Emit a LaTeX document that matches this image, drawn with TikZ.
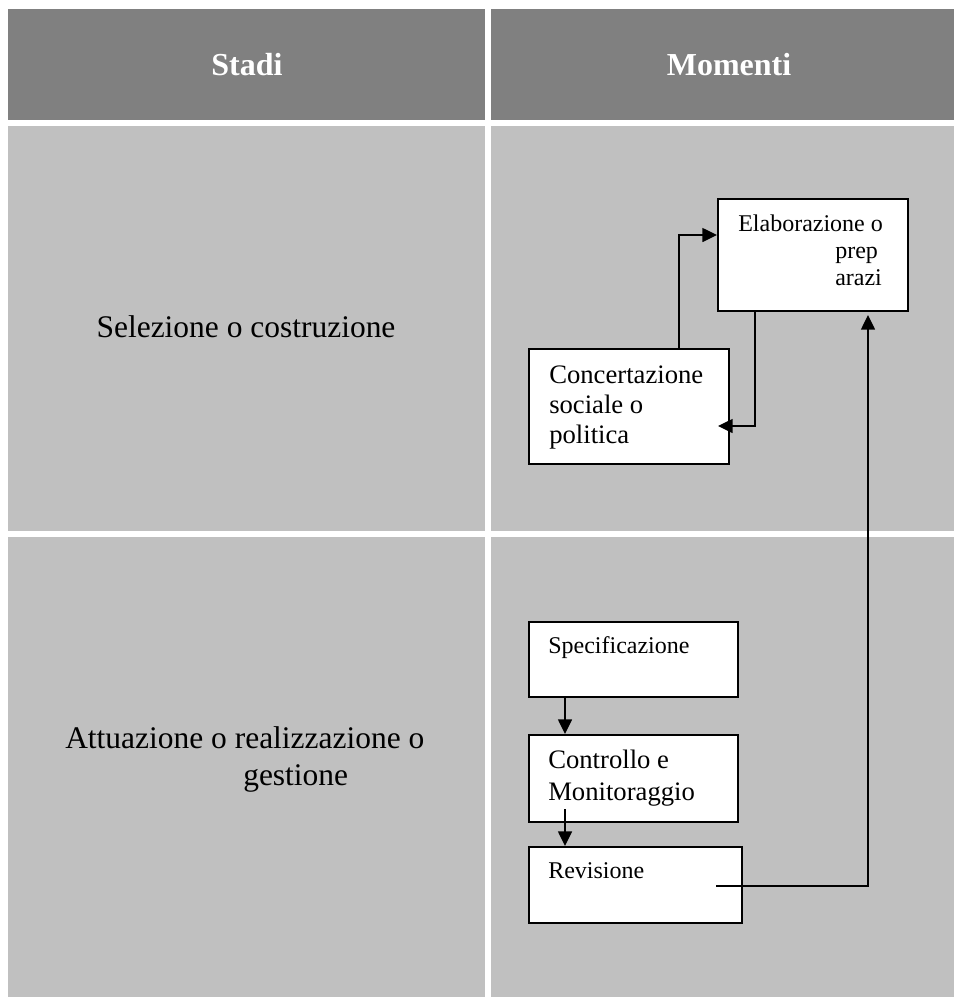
\documentclass[tikz,border=0pt]{standalone}
\usepackage{fontspec}
\setmainfont{Liberation Serif}
\usetikzlibrary{arrows.meta}
\definecolor{hdrgray}{HTML}{808080}
\definecolor{cellgray}{HTML}{C0C0C0}
\begin{document}
\begin{tikzpicture}[x=0.75pt,y=-0.75pt,
  box/.style={draw=black, fill=white, line width=1.4pt, inner sep=0pt, anchor=north west},
  hdrtxt/.style={text=white, font=\fontsize{24}{28}\selectfont\bfseries, inner sep=0pt, anchor=base},
  bigtxt/.style={font=\fontsize{23.6}{28}\selectfont, inner sep=0pt, anchor=base west},
  smalltxt/.style={font=\fontsize{18}{21}\selectfont, inner sep=0pt, anchor=base west},
  midtxt/.style={font=\fontsize{20}{24}\selectfont, inner sep=0pt, anchor=base west},
  arr/.style={line width=1.1pt, -{Triangle[length=11pt,width=10.5pt]}},
  conn/.style={line width=1.1pt}]
\useasboundingbox (0,0) rectangle (954,997);
\fill[white] (0,0) rectangle (954,997);
% table cells
\fill[hdrgray] (8,9) rectangle (485,120);
\fill[hdrgray] (491,9) rectangle (954,120);
\fill[cellgray] (8,126) rectangle (485,531);
\fill[cellgray] (491,126) rectangle (954,531);
\fill[cellgray] (8,537) rectangle (485,997);
\fill[cellgray] (491,537) rectangle (954,997);
% headers
\node[hdrtxt] (hStadi) at (247,75) {Stadi};
\node[hdrtxt] (hMomenti) at (729,75) {Momenti};
% stage labels
\node[bigtxt, anchor=base] (sel) at (246,337) {Selezione o costruzione};
\node[bigtxt] (att1) at (65,748) {Attuazione o realizzazione o};
\node[bigtxt] (att2) at (243,785) {gestione};
% boxes
\node[box, minimum width=142.5pt, minimum height=84pt] (elab) at (717,198) {};
\node[box, minimum width=150pt, minimum height=86.25pt] (conc) at (528,348) {};
\node[box, minimum width=156.75pt, minimum height=56.25pt] (spec) at (528,621) {};
\node[box, minimum width=156.75pt, minimum height=65.25pt] (ctrl) at (528,734) {};
\node[box, minimum width=159.75pt, minimum height=57pt] (rev) at (528,846) {};
% box texts
\node[smalltxt] (elabA) at (738,231) {Elaborazione o};
\node[smalltxt] (elabB) at (835,258) {prep};
\node[smalltxt] (elabC) at (835,285) {arazi};
\node[midtxt] (concA) at (549,383) {Concertazione};
\node[midtxt] (concB) at (549,413) {sociale o};
\node[midtxt] (concC) at (549,443) {politica};
\node[smalltxt] (specA) at (548,653) {Specificazione};
\node[midtxt] (ctrlA) at (548,768) {Controllo e};
\node[midtxt] (ctrlB) at (548,800) {Monitoraggio};
\node[smalltxt] (revA) at (548,878) {Revisione};
% connector helper coordinates
\coordinate (concTip) at (718,426);
\coordinate (revStart) at (716,886);
\coordinate (elabTip) at (868,315);
\coordinate (ctrlStart) at (565,809);
% connectors
\draw[arr] (679,0 |- conc.north) |- (elab.west |- 0,235);
\draw[arr] (755,0 |- elab.south) |- (concTip);
\draw[arr] (565,0 |- spec.south) -- (565,0 |- ctrl.north);
\draw[arr] (ctrlStart) -- (565,0 |- rev.north);
\draw[arr] (revStart) -| (elabTip);
\end{tikzpicture}
\end{document}
